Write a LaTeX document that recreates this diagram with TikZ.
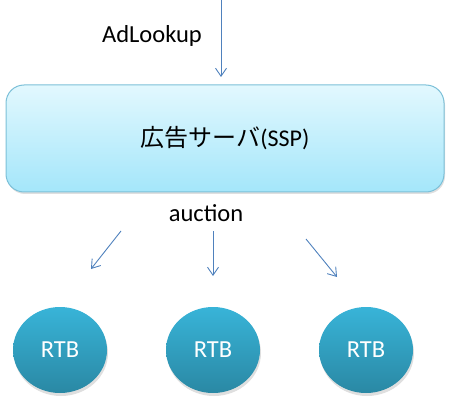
\documentclass[tikz,border=0pt]{standalone}
\usepackage{fontspec}
\setmainfont{Carlito}
\newfontfamily\jpfont{Noto Sans CJK JP}
\usetikzlibrary{arrows.meta,shapes.geometric,shadows,calc}
\definecolor{arrowblue}{HTML}{4F81BD}
\definecolor{boxtop}{HTML}{E2F8FE}
\definecolor{boxbot}{HTML}{A4E6FA}
\definecolor{boxedge}{HTML}{7CC0D8}
\definecolor{rtbtop}{HTML}{38B4D8}
\definecolor{rtbbot}{HTML}{2A88A4}
\tikzset{
  flow/.style={draw=arrowblue, line width=0.9pt, -{Straight Barb[length=8pt,width=11pt]}},
  server/.style={draw=boxedge, line width=1pt, rounded corners=18pt, top color=boxtop, bottom color=boxbot,
    minimum width=438pt, minimum height=107pt, inner sep=0pt,
    drop shadow={shadow xshift=1pt, shadow yshift=-2pt, opacity=0.25}},
  rtb/.style={ellipse, top color=rtbtop, bottom color=rtbbot, minimum width=94pt, minimum height=86pt,
    inner sep=0pt, text=white, font=\fontsize{24.5}{28}\selectfont,
    drop shadow={shadow xshift=1pt, shadow yshift=-3pt, opacity=0.25}},
  lbl/.style={font=\fontsize{24.5}{28}\selectfont, text=black}
}
\begin{document}
\begin{tikzpicture}[x=1pt,y=-1pt]
\useasboundingbox (0,0) rectangle (450,401);
\node[server] (ssp) at (225,138.5) {\fontsize{24}{28}\selectfont{\jpfont 広告サーバ}(SSP)};
\node[lbl] (adl) at (152,36) {AdLookup};
\node[lbl] (auc) at (206,213) {auction};
\node[rtb] (r1) at (60,350) {RTB};
\node[rtb] (r2) at (213,350) {RTB};
\node[rtb] (r3) at (366,350) {RTB};
\coordinate (in0) at (221,0);
\coordinate (in1) at (221,77);
\coordinate (a0) at (121,231);
\coordinate (a1) at (91,269);
\coordinate (b0) at (213,231);
\coordinate (b1) at (213,276);
\coordinate (c0) at (306,239);
\coordinate (c1) at (337,277);
\draw[flow] (in0) -- (in1);
\draw[flow] (a0) -- (a1);
\draw[flow] (b0) -- (b1);
\draw[flow] (c0) -- (c1);
\end{tikzpicture}
\end{document}
